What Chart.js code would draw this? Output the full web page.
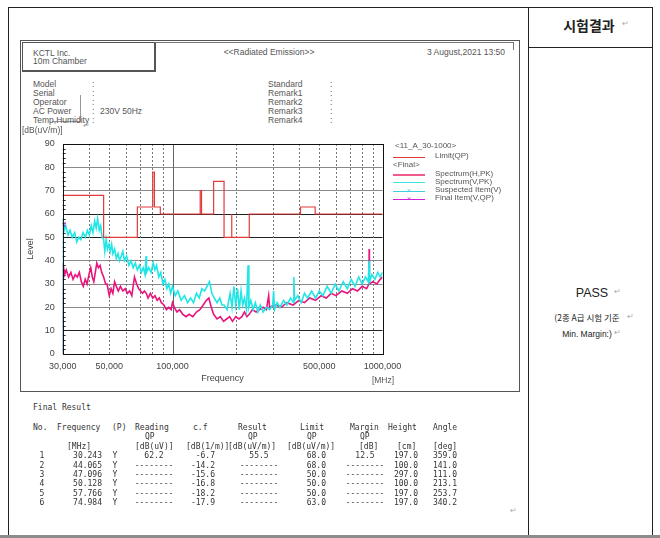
<!DOCTYPE html>
<html>
<head>
<meta charset="utf-8">
<script src="https://cdn.jsdelivr.net/npm/chart.js@4.4.1/dist/chart.umd.min.js"></script>
<style>
body { margin: 0; background: #fff; }
#page { position: relative; width: 660px; height: 538px; overflow: hidden; font-family: 'Liberation Sans', Arial, sans-serif; color: #555; }
.t { position: absolute; white-space: nowrap; line-height: 1; font-size: 8.5px; }
.mono { font-family: 'DejaVu Sans Mono', 'Liberation Mono', monospace; font-size: 8px; color: #333; }
.kr { font-family: 'Noto Sans CJK KR', sans-serif; color: #222; }
.mark { color: #aaa; font-size: 8px; }
.ln { position: absolute; }
#emiChart { position: absolute; left: 20px; top: 130px; }
</style>
</head>
<body>
<div id="page">
  <!-- 문서 표 테두리 -->
  <div class="ln" style="left:8px;top:7px;width:645px;height:529px;border:1px solid #222;box-sizing:border-box;"></div>
  <div class="ln" style="left:528px;top:7px;width:1px;height:529px;background:#222;"></div>
  <div class="ln" style="left:528px;top:47px;width:125px;height:1px;background:#222;"></div>
  <div class="ln" style="left:0;top:535px;width:660px;height:3px;background:#8c8c8c;"></div>

  <!-- 차트 패널 -->
  <div class="ln" style="left:20px;top:40px;width:500px;height:352px;border:1px solid #555;box-sizing:border-box;"></div>
  <div class="ln" style="left:22px;top:42px;width:134px;height:30px;border:1px solid #555;border-right-width:2px;border-bottom-width:2px;box-sizing:border-box;"></div>
  <div class="ln" style="left:155px;top:42px;width:359px;height:8px;border-top:1px solid #777;border-right:1px solid #777;box-sizing:border-box;"></div>
  <div class="ln" style="left:80px;top:95px;width:1px;height:27px;background:#999;"></div>
  <div class="ln" style="left:52px;top:121px;width:28px;height:1px;background:#999;"></div>

  <canvas id="emiChart" width="385" height="260"></canvas>
</div>

<script>
// 측정 데이터 (그림에서 읽은 값)
// 리밋 (QP)
const limitFreq  = [30, 47, 47, 68, 68, 80.5, 80.5, 82, 82, 87.5, 87.5, 135.5, 135.5, 137.5, 137.5, 157, 157, 176, 176, 190.5, 190.5, 192, 192, 232, 232, 407, 407, 478, 478, 1000];
const limitLevel = [68, 68, 50, 50, 63, 63, 78, 78, 63, 63, 60, 60, 70, 70, 60, 60, 74, 74, 50, 50, 60, 60, 50, 50, 60, 60, 63, 63, 60, 60];

// 스펙트럼 (V, PK)
const vFreq = [30, 30.1, 30.5, 31, 31.8, 32.5, 33.3, 34.2, 35, 35.8,
    36.6, 37.5, 38.5, 39.3, 40.2, 41, 41.8, 42.6, 43.3, 44,
    44.8, 45.5, 46.2, 47, 47.6, 48.3, 49, 49.8, 50.5, 51.3,
    52, 53, 54, 55, 56, 57, 58, 59, 60.5, 62,
    63.5, 65, 66.5, 68, 69.5, 71, 72.5, 74, 74.9, 75.2,
    77, 79, 81, 82.5, 84, 86, 88, 90, 92, 94,
    96, 98, 100, 103, 106, 110, 114, 118, 122, 126,
    130, 134, 138, 142, 146, 150, 154, 158, 163, 168,
    172, 176, 182, 188, 192, 196, 200, 204, 208, 212,
    216, 220, 225, 229, 231, 236, 242, 248, 255, 262,
    270, 280, 290, 300, 303, 306, 315, 325, 338, 350,
    365, 377, 378.5, 381, 395, 410, 425, 440, 460, 480,
    500, 520, 545, 570, 595, 620, 650, 680, 710, 740,
    770, 800, 830, 855, 864, 868, 890, 920, 950, 975, 1000];
const vLevel = [0, 58, 53, 55, 51, 53, 50, 52, 48, 50,
    49, 52, 50, 53, 51, 55, 52, 57, 54, 58,
    53, 55, 50, 49, 44, 49, 45, 47, 44, 47,
    43, 45, 41, 43, 40, 42, 44, 40, 42, 38,
    40, 37, 39, 36, 38, 35, 37, 34, 42, 35,
    37, 35, 39, 36, 38, 33, 35, 30, 32, 28,
    30, 26, 29, 25, 27, 23, 25, 22, 24, 22,
    26, 24, 28, 27, 29, 31, 26, 24, 22, 24,
    21, 21, 19, 26, 20, 29, 21, 28, 19, 27,
    21, 24, 19, 38, 20, 23, 19, 22, 18, 21,
    18, 20, 19, 21, 27, 19, 22, 20, 23, 21,
    24, 22, 33, 23, 25, 22, 26, 24, 27, 24,
    27, 25, 29, 26, 30, 27, 31, 28, 32, 29,
    33, 30, 33, 31, 40, 31, 34, 32, 35, 33, 35];

// 스펙트럼 (H, PK)
const hFreq = [30, 30.1, 30.6, 31.2, 32, 32.8, 33.6, 34.4, 35.2, 36,
    36.8, 37.6, 38.4, 39.2, 40, 40.8, 41.5, 42.2, 42.9, 43.6,
    44.4, 45.2, 46, 47, 48, 48.8, 50, 51, 52, 53,
    54, 55.2, 56.5, 58, 59.5, 61, 62.5, 64, 65.9, 67.5,
    69, 70.5, 72, 73.5, 75, 76.5, 78.5, 80.5, 82.5, 84.5,
    86.5, 88.5, 91, 93.5, 96, 98.5, 100, 102, 105, 108,
    112, 116, 120, 125, 130, 135, 140, 145, 149, 153,
    157, 163, 169, 175, 181, 187, 193, 200, 207, 214,
    220, 226, 232, 240, 250, 260, 270, 280, 287, 290,
    310, 330, 350, 375, 400, 425, 450, 480, 510, 540,
    570, 600, 640, 680, 720, 760, 800, 840, 862, 864,
    866, 900, 940, 975, 1000];
const hLevel = [0, 39, 34, 36, 33, 35, 32, 34, 33, 35,
    31, 29, 32, 30, 34, 37, 33, 31, 35, 39,
    37, 38, 35, 33, 30, 30, 25, 28, 26, 31,
    29, 27, 29, 27, 28, 26, 27, 25, 33, 30,
    28, 27, 26, 27, 26, 24, 26, 24, 25, 23,
    24, 22, 21, 19, 20, 19, 22, 20, 18, 19,
    17, 16, 17, 16, 18, 19, 21, 23, 24, 20,
    17, 15, 16, 14, 15, 16, 14, 16, 15, 16,
    18, 16, 17, 19, 18, 19, 20, 19, 25, 20,
    21, 20, 22, 21, 23, 22, 24, 23, 25, 24,
    26, 25, 27, 26, 28, 27, 29, 28, 30, 45,
    30, 31, 30, 32, 33];

// 최종 측정 (V, QP)
const finalFreq  = [30.243];
const finalLevel = [55.5];

// 축 눈금
const xGridVals = [40, 50, 60, 70, 80, 90, 100, 200, 300, 400, 500, 600, 700, 800, 900];
const xTickVals = [30, 40, 50, 60, 70, 80, 90, 100, 200, 300, 400, 500, 600, 700, 800, 900, 1000];
const xTickLabels = { 30: '30,000', 50: '50,000', 100: '100,000', 500: '500,000', 1000: '1000,000' };
const yDarkGrid = [10, 50, 60];

// Final Result 표
const resNo      = ['1', '2', '3', '4', '5', '6'];
const resFreq    = ['30.243', '44.065', '47.096', '50.128', '57.766', '74.984'];
const resPol     = ['Y', 'Y', 'Y', 'Y', 'Y', 'Y'];
const resReading = ['62.2', '--------', '--------', '--------', '--------', '--------'];
const resCf      = ['-6.7', '-14.2', '-15.6', '-16.8', '-18.2', '-17.9'];
const resResult  = ['55.5', '--------', '--------', '--------', '--------', '--------'];
const resLimit   = ['68.0', '68.0', '50.0', '50.0', '50.0', '63.0'];
const resMargin  = ['12.5', '--------', '--------', '--------', '--------', '--------'];
const resHeight  = ['197.0', '100.0', '297.0', '100.0', '197.0', '197.0'];
const resAngle   = ['359.0', '141.0', '111.0', '213.1', '253.7', '340.2'];

const page = document.getElementById('page');

// 텍스트 배치 (x, y 는 중심선 기준)
function put(x, y, s, cls, align, style) {
    const d = document.createElement('div');
    d.className = 't ' + (cls || '');
    d.textContent = s;
    const tx = align === 'center' ? '-50%' : align === 'right' ? '-100%' : '0';
    d.style.left = x + 'px';
    d.style.top = y + 'px';
    d.style.transform = `translate(${tx},-50%)`;
    if (style) Object.assign(d.style, style);
    page.appendChild(d);
    return d;
}

function lineSample(x, y, w, color, h) {
    const d = document.createElement('div');
    d.className = 'ln';
    Object.assign(d.style, { left: x + 'px', top: (y - (h || 1) / 2) + 'px', width: w + 'px', height: (h || 1) + 'px', background: color });
    page.appendChild(d);
}

// 헤더
put(33, 53, 'KCTL Inc.');
put(33, 61, '10m Chamber');
put(269, 52, '<<Radiated Emission>>', '', 'center');
put(505, 52, '3 August,2021 13:50', '', 'right');

const infoLeft = ['Model', 'Serial', 'Operator', 'AC Power', 'Temp,Humidity'];
const infoRight = ['Standard', 'Remark1', 'Remark2', 'Remark3', 'Remark4'];
const infoY = [84, 93, 102, 111, 120];
infoY.forEach((y, i) => {
    put(33, y, infoLeft[i]);
    put(92, y, ':');
    put(268, y, infoRight[i]);
    put(330, y, ':');
});
put(100, 111, '230V 50Hz');
put(83, 126, '↵', 'mark');
put(22, 130, '[dB(uV/m)]');
put(383, 380, '[MHz]', '', 'center');

// 범례
put(395, 146, '<11_A_30-1000>', '', '', { fontSize: '8px' });
lineSample(393, 157, 32, '#e03a3a', 1);
put(435, 156, 'Limit(QP)', '', '', { fontSize: '8px' });
put(393, 165, '<Final>', '', '', { fontSize: '8px' });
lineSample(393, 175, 32, '#f05a8e', 1.5);
put(435, 174, 'Spectrum(H,PK)', '', '', { fontSize: '8px' });
lineSample(393, 182.5, 32, '#3fe3e3', 1);
put(435, 182, 'Spectrum(V,PK)', '', '', { fontSize: '8px' });
lineSample(393, 191, 32, '#3fcfe3', 1);
put(409, 191, '×', '', 'center', { color: '#3fcfe3', fontSize: '8px' });
put(435, 190, 'Suspected Item(V)', '', '', { fontSize: '8px' });
lineSample(393, 199, 32, '#d21fd2', 1);
put(409, 199, '×', '', 'center', { color: '#d21fd2', fontSize: '8px' });
put(435, 198, 'Final Item(V,QP)', '', '', { fontSize: '8px' });

// Final Result 표
put(33, 408, 'Final Result', 'mono');
const head1 = [[33, 'No.'], [57, 'Frequency'], [112, '(P)'], [135, 'Reading'], [193, 'c.f'], [238, 'Result'], [300, 'Limit'], [350, 'Margin'], [388, 'Height'], [433, 'Angle']];
head1.forEach(([x, s]) => put(x, 428, s, 'mono'));
[[145, 'QP'], [248, 'QP'], [307, 'QP'], [360, 'QP']].forEach(([x, s]) => put(x, 437, s, 'mono'));
const head3 = [[67, '[MHz]'], [135, '[dB(uV)]'], [186, '[dB(1/m)]'], [228, '[dB(uV/m)]'], [287, '[dB(uV/m)]'], [359, '[dB]'], [397, '[cm]'], [433, '[deg]']];
head3.forEach(([x, s]) => put(x, 447, s, 'mono'));
const rowY = [456, 465.5, 475, 484.3, 493.7, 503];
rowY.forEach((y, i) => {
    put(42, y, resNo[i], 'mono', 'center');
    put(102, y, resFreq[i], 'mono', 'right');
    put(115, y, resPol[i], 'mono', 'center');
    put(154, y, resReading[i], 'mono', 'center');
    put(215, y, resCf[i], 'mono', 'right');
    put(259, y, resResult[i], 'mono', 'center');
    put(326, y, resLimit[i], 'mono', 'right');
    put(365, y, resMargin[i], 'mono', 'center');
    put(418, y, resHeight[i], 'mono', 'right');
    put(457, y, resAngle[i], 'mono', 'right');
});
put(510, 511, '↵', 'mark');

// 오른쪽 시험결과 칸
put(589, 25, '시험결과', 'kr', 'center', { fontSize: '14px', fontWeight: 'bold' });
put(622, 24, '↵', 'mark');
put(592, 293, 'PASS', 'kr', 'center', { fontSize: '12.5px', fontFamily: "'Liberation Sans', Arial, sans-serif" });
put(614, 292, '↵', 'mark');
put(587, 317, '(2종 A급 시험 기준', 'kr', 'center', { fontSize: '8.5px' });
put(627, 317, '↵', 'mark');
put(587, 334, 'Min. Margin:)', 'kr', 'center', { fontSize: '8.5px', fontFamily: "'Liberation Sans', Arial, sans-serif" });
put(614, 333, '↵', 'mark');

// 차트
const toXY = (xs, ys) => xs.map((x, i) => ({ x: x, y: ys[i] }));

// 세로 격자, 보조 눈금, 테두리
const frameGrid = {
    id: 'frameGrid',
    beforeDatasetsDraw(chart) {
        const { ctx, chartArea: a, scales: { x, y } } = chart;
        ctx.save();
        ctx.lineWidth = 1;
        xGridVals.forEach(v => {
            const px = Math.round(x.getPixelForValue(v)) + 0.5;
            ctx.strokeStyle = v === 100 ? '#666' : '#777';
            ctx.setLineDash(v === 100 ? [] : [2, 2]);
            ctx.beginPath();
            ctx.moveTo(px, a.top);
            ctx.lineTo(px, a.bottom);
            ctx.stroke();
        });
        ctx.setLineDash([]);
        ctx.strokeStyle = '#333';
        for (let v = 2; v < 90; v += 2) {
            if (v % 10 === 0) continue;
            const py = Math.round(y.getPixelForValue(v)) + 0.5;
            ctx.beginPath();
            ctx.moveTo(a.left, py);
            ctx.lineTo(a.left + 3, py);
            ctx.stroke();
        }
        ctx.restore();
    },
    afterDatasetsDraw(chart) {
        const { ctx, chartArea: a } = chart;
        ctx.save();
        ctx.strokeStyle = '#111';
        ctx.lineWidth = 1;
        ctx.strokeRect(Math.round(a.left) + 0.5, Math.round(a.top) + 0.5, Math.round(a.right - a.left), Math.round(a.bottom - a.top));
        ctx.restore();
    }
};

Chart.defaults.font.family = "'Liberation Sans', Arial, sans-serif";

new Chart(document.getElementById('emiChart').getContext('2d'), {
    type: 'line',
    data: {
        datasets: [
            {
                label: 'Limit(QP)',
                data: toXY(limitFreq, limitLevel),
                borderColor: '#e03a3a',
                borderWidth: 1.2,
                pointRadius: 0,
                tension: 0,
            },
            {
                label: 'Final Item(V,QP)',
                data: toXY(finalFreq, finalLevel),
                borderColor: '#d21fd2',
                pointStyle: 'crossRot',
                pointRadius: 3,
                pointBorderWidth: 1.2,
                showLine: false,
            },
            {
                label: 'Spectrum(V,PK)',
                data: toXY(vFreq, vLevel),
                borderColor: '#22e6e6',
                borderWidth: 1.6,
                pointRadius: 0,
                tension: 0,
            },
            {
                label: 'Spectrum(H,PK)',
                data: toXY(hFreq, hLevel),
                borderColor: '#e8157c',
                borderWidth: 1.6,
                pointRadius: 0,
                tension: 0,
            }
        ]
    },
    options: {
        responsive: false,
        animation: false,
        layout: { padding: { left: 0, right: 22.5, top: 14, bottom: 0 } },
        plugins: {
            legend: { display: false },
            tooltip: { enabled: false },
        },
        scales: {
            x: {
                type: 'logarithmic',
                min: 30,
                max: 1000,
                afterBuildTicks: scale => { scale.ticks = xTickVals.map(v => ({ value: v })); },
                afterFit: scale => { scale.height = 36; scale.paddingLeft = 0; scale.paddingRight = 0; },
                ticks: {
                    autoSkip: false,
                    maxRotation: 0,
                    padding: -1,
                    color: '#444',
                    font: { size: 9 },
                    callback: v => xTickLabels[v] || '',
                },
                grid: { display: false },
                border: { display: false },
                title: {
                    display: true,
                    text: 'Frequency',
                    color: '#444',
                    font: { size: 9 },
                    padding: { top: 0, bottom: 6 },
                }
            },
            y: {
                min: 0,
                max: 90,
                afterFit: scale => { scale.width = 42.7; scale.paddingTop = 0; scale.paddingBottom = 0; },
                ticks: {
                    stepSize: 10,
                    padding: 8,
                    color: '#444',
                    font: { size: 9 },
                },
                grid: {
                    drawTicks: false,
                    color: ctx => yDarkGrid.includes(ctx.tick.value) ? '#222' : '#8a8a8a',
                },
                border: { display: false },
                title: {
                    display: true,
                    text: 'Level',
                    color: '#444',
                    font: { size: 9 },
                    padding: { top: 5, bottom: 0 },
                }
            }
        }
    },
    plugins: [frameGrid]
});
</script>
</body>
</html>
